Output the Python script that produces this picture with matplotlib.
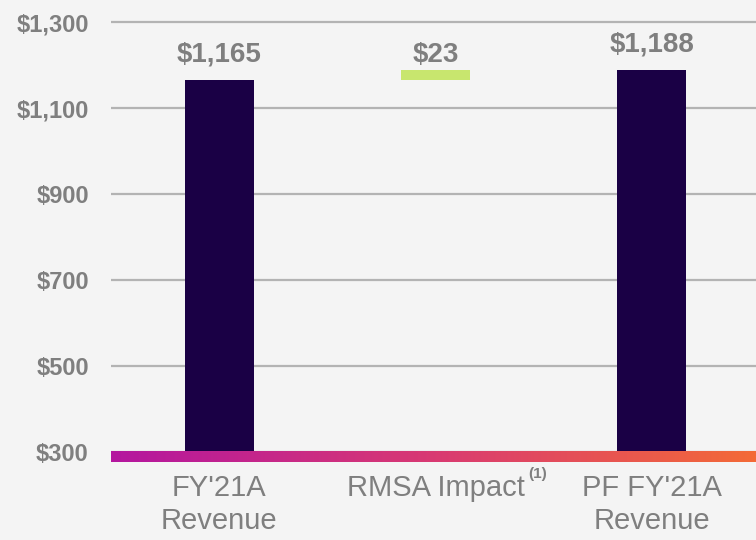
import numpy as np
import matplotlib
matplotlib.use("Agg")
from matplotlib import pyplot as plt
from matplotlib.colors import LinearSegmentedColormap
from matplotlib import transforms

plt.rcParams["font.family"] = ["Liberation Sans", "DejaVu Sans"]

# data
categories = ["FY'21A\nRevenue", "RMSA Impact", "PF FY'21A\nRevenue"]
fy21_revenue = 1165
rmsa_impact = 23
pf_revenue = 1188
value_labels = ["$1,165", "$23", "$1,188"]
y_ticks = [300, 500, 700, 900, 1100, 1300]

bg = "#f4f4f4"
dark = "#1a0045"
green = "#c8e66e"
grey = "#7f7f7f"

fig = plt.figure(figsize=(7.56, 5.4), dpi=100, facecolor=bg)
ax = fig.add_axes([111 / 756, 1 - 461.9 / 540, (760 - 111) / 756, 448.5 / 540])
ax.set_facecolor(bg)

base = 300
x = np.arange(len(categories))
w = 0.318
ax.bar(x[0], fy21_revenue - base, bottom=base, width=w, color=dark, zorder=2)
ax.bar(x[1], rmsa_impact, bottom=fy21_revenue, width=w, color=green, zorder=2)
ax.bar(x[2], pf_revenue - base, bottom=base, width=w, color=dark, zorder=2)

# value labels
label_anchor = [fy21_revenue, fy21_revenue, pf_revenue]
for xi, yv, txt in zip(x, label_anchor, value_labels):
    ax.annotate(txt, xy=(xi, yv), xytext=(0, 9), textcoords="offset points",
                ha="center", va="bottom", fontsize=20, fontweight="bold", color=grey)

# gradient axis bar
cmap = LinearSegmentedColormap.from_list("grad", ["#b4169f", "#d93a72", "#f46b36"])
grad = np.linspace(0, 1, 256).reshape(1, -1)
ax.imshow(grad, cmap=cmap, aspect="auto", extent=[-0.5, 2.5, 277, 302], zorder=3)

ax.set_xlim(-0.5, 2.5)
ax.set_ylim(277, 1320)
ax.set_yticks(y_ticks)
ax.set_yticklabels([f"${v:,}" for v in y_ticks])
ax.tick_params(axis="y", length=0, pad=16, labelsize=17, labelcolor=grey)
for t in ax.get_yticklabels():
    t.set_fontweight("bold")
ax.set_xticks([])
ax.yaxis.grid(True, color="#b3b3b3", lw=1.6, zorder=0)
ax.set_axisbelow(True)
for s in ax.spines.values():
    s.set_visible(False)

# category labels
trans = transforms.blended_transform_factory(ax.transData, ax.transAxes)
cat_texts = []
for xi, c in zip(x, categories):
    t = ax.annotate(c, xy=(xi, 0), xycoords=trans, xytext=(0, -9), textcoords="offset points",
                    ha="center", va="top", fontsize=21, color=grey, linespacing=1.2)
    cat_texts.append(t)
ax.annotate("(1)", xy=(1, 1), xycoords=cat_texts[1], xytext=(3, 5), textcoords="offset points",
            ha="left", va="top", fontsize=11, fontweight="bold", color=grey)

fig.savefig("out.png", dpi=100, facecolor=bg)
